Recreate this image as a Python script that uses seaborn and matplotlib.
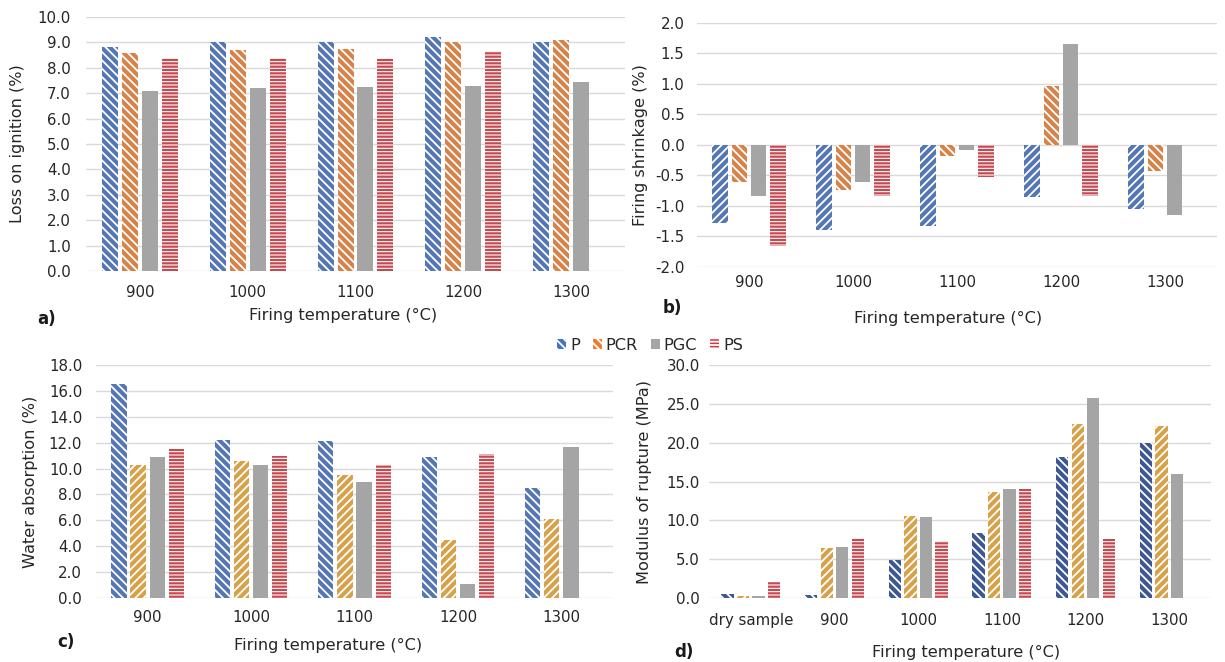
# figura com 4 painéis de barras (a-d)

import pandas as pd
import seaborn as sns
import matplotlib.pyplot as plt
from matplotlib.patches import Patch

# dados
amostras = ["P", "PCR", "PGC", "PS"]
temperaturas = ["900", "1000", "1100", "1200", "1300"]
temperaturas_d = ["dry sample", "900", "1000", "1100", "1200", "1300"]

# a) perda ao fogo (%)
loi_P = [8.8, 9.0, 9.0, 9.2, 9.0]
loi_PCR = [8.6, 8.7, 8.75, 9.0, 9.1]
loi_PGC = [7.1, 7.2, 7.25, 7.3, 7.45]
loi_PS = [8.4, 8.4, 8.4, 8.65, None]

# b) retração de queima (%)
ret_P = [-1.28, -1.40, -1.32, -0.85, -1.05]
ret_PCR = [-0.60, -0.73, -0.18, 0.97, -0.43]
ret_PGC = [-0.83, -0.60, -0.08, 1.65, -1.15]
ret_PS = [-1.65, -0.83, -0.53, -0.83, None]

# c) absorção de água (%)
abs_P = [16.5, 12.2, 12.1, 10.9, 8.5]
abs_PCR = [10.3, 10.6, 9.5, 4.5, 6.1]
abs_PGC = [10.9, 10.3, 9.0, 1.1, 11.7]
abs_PS = [11.5, 11.0, 10.3, 11.1, None]

# d) módulo de ruptura (MPa)
mr_P = [0.5, 0.4, 4.9, 8.4, 18.2, 20.0]
mr_PCR = [0.3, 6.4, 10.6, 13.7, 22.4, 22.2]
mr_PGC = [0.2, 6.6, 10.4, 14.0, 25.8, 16.0]
mr_PS = [2.0, 7.7, 7.4, 14.0, 7.6, None]


def tabela(cats, series):
    linhas = []
    for nome, valores in zip(amostras, series):
        for c, v in zip(cats, valores):
            linhas.append({"temp": c, "amostra": nome, "valor": v})
    return pd.DataFrame(linhas)


sns.set_style("white")
plt.rcParams["font.family"] = ["DejaVu Sans"]
plt.rcParams["font.size"] = 11
plt.rcParams["hatch.linewidth"] = 1.3

W, H = 1225, 662
fig = plt.figure(figsize=(W / 100, H / 100), dpi=100)


def eixo(l, r, t, b):
    return fig.add_axes([l / W, 1 - b / H, (r - l) / W, (b - t) / H])


def hachura(barra, h):
    # aplica a hachura branca; listras horizontais mais finas
    barra.set_hatch(h)
    barra.set_edgecolor("white")
    if hasattr(barra, "set_hatch_linewidth"):
        barra.set_hatch_linewidth(0.8 if "-" in h else 1.3)


azul = "#4472C4"
azul_esc = "#2F52A0"
laranja = "#ED7D31"
dourado = "#EEA633"
cinza = "#A5A5A5"
vermelho = "#D9343E"
bs = "\\\\\\\\"
fs = "////"
hz = "-----"

TICK = 10.8
LAB = 11.6

paineis = [
    dict(pos=(86, 625, 17, 271), cats=temperaturas, series=[loi_P, loi_PCR, loi_PGC, loi_PS],
         cores=[azul, laranja, cinza, vermelho], hatches=[bs, bs, "", hz],
         ylim=(0, 10), passo=1.0, ylabel="Loss on ignition (%)", ylx=-0.113,
         padx=10, pady=11, xl=(343, 315), letra="a)", lt=(47, 319)),
    dict(pos=(697, 1217, 23, 267), cats=temperaturas, series=[ret_P, ret_PCR, ret_PGC, ret_PS],
         cores=[azul, laranja, cinza, vermelho], hatches=[fs, bs, "", hz],
         ylim=(-2, 2), passo=0.5, ylabel="Firing shrinkage (%)", ylx=-0.094,
         padx=6, pady=9, xl=(948, 318), letra="b)", lt=(672, 308)),
    dict(pos=(96, 613, 365, 598), cats=temperaturas, series=[abs_P, abs_PCR, abs_PGC, abs_PS],
         cores=[azul, dourado, cinza, vermelho], hatches=[bs, fs, "", hz],
         ylim=(0, 18), passo=2.0, ylabel="Water absorption (%)", ylx=-0.112,
         padx=8.5, pady=10, xl=(328, 645), letra="c)", lt=(66, 642)),
    dict(pos=(709, 1211, 365, 598), cats=temperaturas_d, series=[mr_P, mr_PCR, mr_PGC, mr_PS],
         cores=[azul_esc, dourado, cinza, vermelho], hatches=[bs, fs, "", hz],
         ylim=(0, 30), passo=5.0, ylabel="Modulus of rupture (MPa)", ylx=-0.1135,
         padx=11, pady=6.5, xl=(966, 652), letra="d)", lt=(684, 652)),
]

for p in paineis:
    ax = eixo(*p["pos"])
    df = tabela(p["cats"], p["series"])
    sns.barplot(data=df, x="temp", y="valor", hue="amostra", hue_order=amostras,
                order=p["cats"], palette=p["cores"], width=0.74, gap=0.2,
                errorbar=None, legend=False, ax=ax, zorder=3)
    for cont, h in zip(ax.containers, p["hatches"]):
        for barra in cont:
            barra.set_linewidth(0)
            if h:
                hachura(barra, h)
    lo, hi = p["ylim"]
    ax.set_ylim(lo, hi)
    n = int(round((hi - lo) / p["passo"]))
    ax.set_yticks([lo + i * p["passo"] for i in range(n + 1)])
    ax.yaxis.set_major_formatter(plt.FormatStrFormatter("%.1f"))
    ax.set_xlim(-0.5, len(p["cats"]) - 0.5)
    ax.grid(axis="y", color="#D9D9D9", linewidth=1, zorder=0)
    ax.set_axisbelow(True)
    sns.despine(ax=ax, left=True, bottom=True)
    ax.tick_params(axis="x", length=0, pad=p["padx"], labelsize=TICK, colors="#262626")
    ax.tick_params(axis="y", length=0, pad=p["pady"], labelsize=TICK, colors="#262626")
    ax.set_xlabel("")
    ax.set_ylabel(p["ylabel"], fontsize=LAB, color="#262626")
    ax.yaxis.set_label_coords(p["ylx"], 0.5)
    fig.text(p["xl"][0] / W, 1 - p["xl"][1] / H, "Firing temperature (°C)",
             ha="center", va="center", fontsize=LAB, color="#262626")
    fig.text(p["lt"][0] / W, 1 - p["lt"][1] / H, p["letra"], ha="center", va="center",
             fontsize=12, fontweight="bold", color="#1A1A1A")

# legenda comum
cores_leg = [azul, laranja, cinza, vermelho]
hatch_leg = [bs, bs, "", hz]
alcas = []
for nome, c, h in zip(amostras, cores_leg, hatch_leg):
    alca = Patch(facecolor=c, edgecolor=c, linewidth=0, label=nome)
    if h:
        hachura(alca, h)
    alcas.append(alca)
fig.legend(handles=alcas, loc="center", bbox_to_anchor=(650 / W, 1 - 345 / H), ncol=4,
           frameon=False, handlelength=0.55, handleheight=0.55, handletextpad=0.25,
           columnspacing=0.8, fontsize=LAB)

plt.savefig("out.png", dpi=100)
